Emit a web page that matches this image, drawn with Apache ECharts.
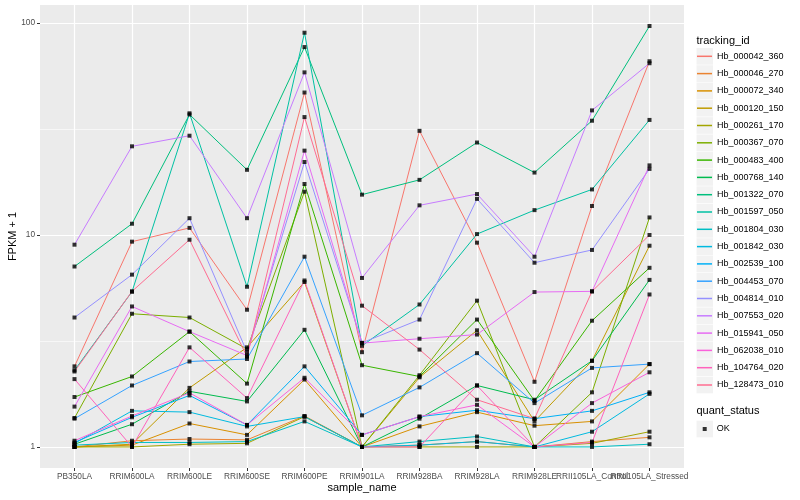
<!DOCTYPE html>
<html><head><meta charset="utf-8">
<script src="https://cdn.jsdelivr.net/npm/echarts@6/dist/echarts.min.js"></script>
<style>html,body{margin:0;padding:0;background:#fff}#c{width:800px;height:500px}</style>
</head><body><div id="c"></div>
<script>
// ---- data ----
const categories = ['PB350LA','RRIM600LA','RRIM600LE','RRIM600SE','RRIM600PE','RRIM901LA','RRIM928BA','RRIM928LA','RRIM928LE','RRII105LA_Control','RRII105LA_Stressed'];
const trackingIds = ['Hb_000042_360','Hb_000046_270','Hb_000072_340','Hb_000120_150','Hb_000261_170','Hb_000367_070','Hb_000483_400','Hb_000768_140','Hb_001322_070','Hb_001597_050','Hb_001804_030','Hb_001842_030','Hb_002539_100','Hb_004453_070','Hb_004814_010','Hb_007553_020','Hb_015941_050','Hb_062038_010','Hb_104764_020','Hb_128473_010'];
const quantStatus = ['OK'];

const hb_000042_360 = [2.4, 9.3, 10.8, 4.44, 47, 2.8, 31, 9.2, 2.03, 13.7, 66];
const hb_000046_270 = [1.0, 1.07, 1.09, 1.08, 1.40, 1.0, 1.02, 1.06, 1.0, 1.06, 1.11];
const hb_000072_340 = [1.0, 1.02, 1.29, 1.14, 2.08, 1.0, 1.25, 1.46, 1.26, 1.32, 2.46];
const hb_000120_150 = [1.0, 1.03, 1.9, 2.95, 6.0, 1.0, 2.13, 3.55, 1.32, 2.55, 8.9];
const hb_000261_170 = [1.0, 1.0, 1.03, 1.04, 1.39, 1.0, 1.0, 1.0, 1.0, 1.04, 1.18];
const hb_000367_070 = [1.37, 4.25, 4.08, 2.9, 16.0, 1.0, 2.18, 4.9, 1.0, 1.81, 12.1];
const hb_000483_400 = [1.72, 2.15, 3.5, 1.99, 17.4, 2.43, 2.15, 3.99, 1.65, 3.94, 7.0];
const hb_000768_140 = [1.03, 1.28, 1.83, 1.64, 3.57, 1.0, 1.36, 1.95, 1.67, 2.55, 6.14];
const hb_001322_070 = [7.1, 11.3, 37, 20.3, 77, 15.5, 18.2, 27.3, 19.7, 34.6, 96.8];
const hb_001597_050 = [2.3, 5.4, 37.5, 5.7, 90, 3.0, 4.7, 10.1, 13.1, 16.4, 34.9];
const hb_001804_030 = [1.02, 1.05, 1.05, 1.06, 1.32, 1.0, 1.06, 1.12, 1.0, 1.0, 1.03];
const hb_001842_030 = [1.04, 1.48, 1.46, 1.25, 1.39, 1.0, 1.02, 1.06, 1.0, 1.18, 1.78];
const hb_002539_100 = [1.05, 1.38, 1.75, 1.27, 2.40, 1.14, 1.39, 1.49, 1.36, 1.48, 1.81];
const hb_004453_070 = [1.36, 1.95, 2.53, 2.6, 7.9, 1.41, 1.91, 2.77, 1.61, 2.36, 2.46];
const hb_004814_010 = [4.08, 6.5, 12.0, 2.8, 22.1, 3.1, 3.99, 14.8, 7.4, 8.5, 20.5];
const hb_007553_020 = [9.0, 26.2, 29.4, 12.0, 58.5, 6.27, 13.8, 15.6, 7.9, 38.7, 64.6];
const hb_015941_050 = [1.55, 4.6, 3.5, 2.7, 25, 3.09, 3.24, 3.39, 5.38, 5.42, 21.3];
const hb_062038_010 = [1.07, 1.4, 1.8, 1.27, 2.12, 1.14, 1.39, 1.58, 1.0, 1.61, 2.25];
const hb_104764_020 = [2.09, 1.0, 2.95, 1.70, 6.1, 1.0, 1.0, 1.95, 1.0, 1.05, 5.24];
const hb_128473_010 = [2.27, 5.42, 9.5, 2.67, 36, 4.64, 2.88, 1.67, 1.36, 5.42, 10.0];

const yTickLabels = [1, 10, 100];
const yMinorBreaks = [3.1623, 31.623];

// ---- styles ----
const palette = ['#F8766D','#EA8331','#D89000','#C09B00','#A3A500','#7CAE00','#39B600','#00BB4E','#00BF7D','#00C1A3','#00BFC4','#00BAE0','#00B0F6','#35A2FF','#9590FF','#C77CFF','#E76BF3','#FA62DB','#FF62BC','#FF6C91'];
const FONT = '"Liberation Sans", Arial, Helvetica, sans-serif';

const seriesValues = [hb_000042_360, hb_000046_270, hb_000072_340, hb_000120_150, hb_000261_170, hb_000367_070, hb_000483_400, hb_000768_140, hb_001322_070, hb_001597_050, hb_001804_030, hb_001842_030, hb_002539_100, hb_004453_070, hb_004814_010, hb_007553_020, hb_015941_050, hb_062038_010, hb_104764_020, hb_128473_010];

const toPoint = (v, i) => [i, Math.log10(v)];
const lineSeries = trackingIds.map((id, k) => ({
  name: id, type: 'line', data: seriesValues[k].map(toPoint),
  symbol: 'none', showSymbol: false, silent: true, z: 2,
  lineStyle: { width: 1, color: palette[k] }, itemStyle: { color: palette[k] }
}));
const allPoints = [];
seriesValues.forEach(arr => arr.forEach((v, i) => allPoints.push(toPoint(v, i))));

const yMin = -0.0993, yMax = 2.085;
const xTicks = categories.map((c, i) => i);
// overlapping labels are split across two coincident axes so neither gets auto-hidden
const xLabelsA = xTicks.filter(i => i % 2 === 0);
const xLabelsB = xTicks.filter(i => i % 2 === 1);

// legend key backgrounds
const keyH = 17.3, keyTop0 = 47.65;
const graphics = [];
trackingIds.forEach((id, i) => graphics.push({ type: 'rect', left: 696.5, top: keyTop0 + i * keyH + 0.3, shape: { width: 16.5, height: keyH - 0.6 }, style: { fill: '#F2F2F2' }, silent: true, z: 0 }));
graphics.push({ type: 'rect', left: 696.5, top: 429 - keyH / 2 + 0.3, shape: { width: 16.5, height: keyH - 0.6 }, style: { fill: '#F2F2F2' }, silent: true, z: 0 });
graphics.push({ type: 'text', left: 696.5, top: 35, style: { text: 'tracking_id', font: '11px ' + FONT, fill: '#000' }, z: 5 });
graphics.push({ type: 'text', left: 696.5, top: 405.5, style: { text: 'quant_status', font: '11px ' + FONT, fill: '#000' }, z: 5 });

const xLabelStyle = { formatter: v => categories[Math.round(v)], color: '#4D4D4D', fontSize: 8.3, fontFamily: FONT, margin: 5, showMinLabel: true, showMaxLabel: true, hideOverlap: false };

const chart = echarts.init(document.getElementById('c'), null, { renderer: 'canvas' });
chart.setOption({
  animation: false,
  backgroundColor: '#fff',
  grid: { left: 40, right: 116, top: 5, bottom: 32, show: true, backgroundColor: '#EBEBEB', borderWidth: 0, containLabel: false, outerBoundsMode: 'none' },
  xAxis: [{
    type: 'value', min: -0.6, max: 10.6, position: 'bottom',
    axisLine: { show: false, onZero: false },
    axisTick: { show: true, length: 3, lineStyle: { color: '#333' }, customValues: xTicks },
    axisLabel: Object.assign({ customValues: xLabelsA }, xLabelStyle),
    splitLine: { show: true, lineStyle: { color: '#fff', width: 1.2 } },
    name: 'sample_name', nameLocation: 'middle', nameGap: 14.5, nameMoveOverlap: false,
    nameTextStyle: { color: '#000', fontSize: 11, fontFamily: FONT }
  }, {
    type: 'value', min: -0.6, max: 10.6, position: 'bottom', offset: 0,
    axisLine: { show: false, onZero: false },
    axisTick: { show: false, customValues: xTicks },
    axisLabel: Object.assign({ customValues: xLabelsB }, xLabelStyle),
    splitLine: { show: false }
  }],
  yAxis: [{
    type: 'value', min: yMin, max: yMax, position: 'left',
    axisLine: { show: false, onZero: false },
    axisTick: { show: true, length: 3, lineStyle: { color: '#333' }, customValues: yTickLabels.map(Math.log10) },
    axisLabel: { customValues: yTickLabels.map(Math.log10), formatter: v => String(Math.round(Math.pow(10, v))), color: '#4D4D4D', fontSize: 8.3, fontFamily: FONT, margin: 5, showMinLabel: true, showMaxLabel: true },
    splitLine: { show: true, lineStyle: { color: '#fff', width: 1.2 } },
    name: 'FPKM + 1', nameLocation: 'middle', nameGap: 22, nameRotate: 90, nameMoveOverlap: false,
    nameTextStyle: { color: '#000', fontSize: 11, fontFamily: FONT }
  }, {
    type: 'value', min: yMin, max: yMax, position: 'left', offset: 0,
    axisLine: { show: false, onZero: false },
    axisTick: { show: false, customValues: yMinorBreaks.map(Math.log10) },
    axisLabel: { show: false, customValues: yMinorBreaks.map(Math.log10) },
    splitLine: { show: true, lineStyle: { color: '#fff', width: 0.6 } }
  }],
  legend: [{
    data: trackingIds, orient: 'vertical', left: 697, top: keyTop0, padding: 0, itemGap: 0,
    itemWidth: 15, itemHeight: 1.5, icon: 'rect', selectedMode: false,
    textStyle: { fontSize: 9, color: '#000', fontFamily: FONT, lineHeight: keyH }
  }, {
    data: quantStatus, orient: 'vertical', left: 702.7, top: 429 - keyH / 2, padding: 0, itemGap: 0,
    itemWidth: 4, itemHeight: 4, icon: 'rect', selectedMode: false,
    textStyle: { fontSize: 9, color: '#000', fontFamily: FONT, lineHeight: keyH, padding: [0, 0, 0, 5] }
  }],
  graphic: graphics,
  series: lineSeries.concat([{
    name: 'OK', type: 'scatter', data: allPoints, symbol: 'rect', symbolSize: 4,
    itemStyle: { color: '#000' }, silent: true, z: 3
  }])
});
</script></body></html>
